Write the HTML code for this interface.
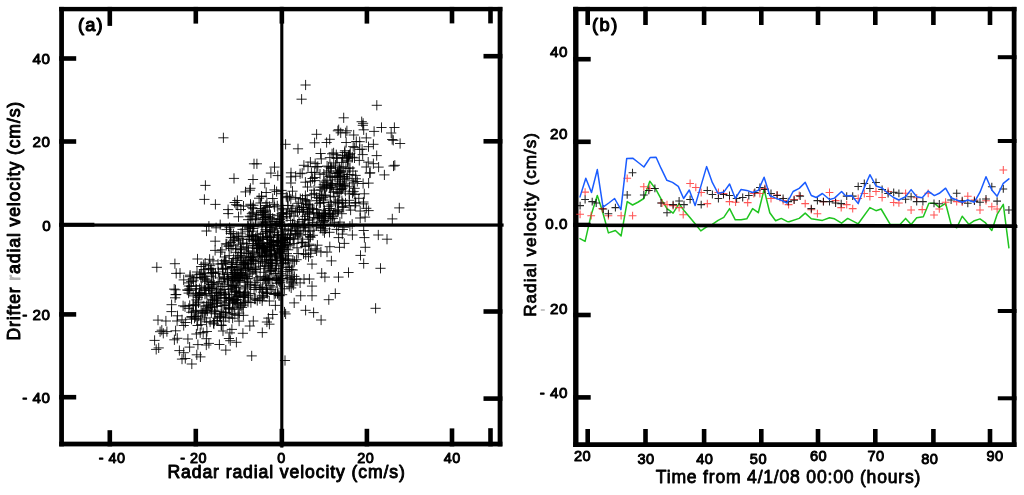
<!DOCTYPE html>
<html lang="en">
<head>
<meta charset="utf-8">
<title>Radial velocity comparison</title>
<style>
html,body{margin:0;padding:0;background:#fff;}
body{width:1024px;height:495px;overflow:hidden;font-family:"Liberation Sans", sans-serif;}
svg{display:block;font-family:"Liberation Sans", sans-serif;}
</style>
</head>
<body>
<svg width="1024" height="495" viewBox="0 0 1024 495">
<defs>
<filter id="soft" x="0" y="0" width="1024" height="495" filterUnits="userSpaceOnUse" color-interpolation-filters="sRGB">
<feGaussianBlur stdDeviation="0.45"/>
</filter>
</defs>
<rect x="0" y="0" width="1024" height="495" fill="#ffffff"/>
<g id="panelA">
<path d="M235.5 255.7h10.2M240.6 250.6v10.2M238.9 256.1h10.2M244.0 251.0v10.2M260.8 205.5h10.2M265.9 200.4v10.2M278.2 237.0h10.2M283.3 231.9v10.2M285.8 183.0h10.2M290.9 177.9v10.2M316.2 158.9h10.2M321.3 153.8v10.2M270.2 268.6h10.2M275.3 263.5v10.2M293.3 203.3h10.2M298.4 198.2v10.2M263.0 216.4h10.2M268.1 211.3v10.2M241.6 253.7h10.2M246.7 248.6v10.2M240.3 268.5h10.2M245.4 263.4v10.2M271.5 260.8h10.2M276.6 255.7v10.2M341.5 157.9h10.2M346.6 152.8v10.2M277.5 251.2h10.2M282.6 246.1v10.2M260.4 229.7h10.2M265.5 224.6v10.2M215.4 252.1h10.2M220.5 247.0v10.2M317.9 197.7h10.2M323.0 192.6v10.2M245.3 188.3h10.2M250.4 183.2v10.2M292.4 212.1h10.2M297.5 207.0v10.2M263.4 279.8h10.2M268.5 274.7v10.2M277.6 208.4h10.2M282.7 203.3v10.2M277.4 240.2h10.2M282.5 235.1v10.2M271.3 223.5h10.2M276.4 218.4v10.2M261.8 202.8h10.2M266.9 197.7v10.2M256.4 196.6h10.2M261.5 191.5v10.2M268.3 246.2h10.2M273.4 241.1v10.2M259.8 217.3h10.2M264.9 212.2v10.2M288.0 238.9h10.2M293.1 233.8v10.2M257.8 212.8h10.2M262.9 207.7v10.2M268.2 245.3h10.2M273.3 240.2v10.2M259.9 217.7h10.2M265.0 212.6v10.2M247.6 231.2h10.2M252.7 226.1v10.2M281.2 196.7h10.2M286.3 191.6v10.2M261.1 259.8h10.2M266.2 254.7v10.2M297.7 212.0h10.2M302.8 206.9v10.2M285.7 230.6h10.2M290.8 225.5v10.2M319.0 212.8h10.2M324.1 207.7v10.2M256.5 196.1h10.2M261.6 191.0v10.2M247.9 179.5h10.2M253.0 174.4v10.2M260.8 262.0h10.2M265.9 256.9v10.2M312.7 166.5h10.2M317.8 161.4v10.2M276.1 249.4h10.2M281.2 244.3v10.2M261.4 256.2h10.2M266.5 251.1v10.2M273.2 240.4h10.2M278.3 235.3v10.2M240.5 286.0h10.2M245.6 280.9v10.2M223.0 209.6h10.2M228.1 204.5v10.2M284.4 213.8h10.2M289.5 208.7v10.2M277.4 216.4h10.2M282.5 211.3v10.2M262.0 247.7h10.2M267.1 242.6v10.2M345.5 210.1h10.2M350.6 205.0v10.2M278.6 263.0h10.2M283.7 257.9v10.2M271.9 228.3h10.2M277.0 223.2v10.2M266.5 263.7h10.2M271.6 258.6v10.2M242.0 276.4h10.2M247.1 271.3v10.2M291.5 259.7h10.2M296.6 254.6v10.2M293.9 221.9h10.2M299.0 216.8v10.2M324.1 213.3h10.2M329.2 208.2v10.2M311.5 250.9h10.2M316.6 245.8v10.2M264.9 259.7h10.2M270.0 254.6v10.2M265.9 244.4h10.2M271.0 239.3v10.2M315.0 187.1h10.2M320.1 182.0v10.2M223.9 245.9h10.2M229.0 240.8v10.2M218.1 263.6h10.2M223.2 258.5v10.2M272.6 236.9h10.2M277.7 231.8v10.2M251.4 248.4h10.2M256.5 243.3v10.2M238.0 264.6h10.2M243.1 259.5v10.2M265.9 231.0h10.2M271.0 225.9v10.2M272.2 249.2h10.2M277.3 244.1v10.2M308.8 217.6h10.2M313.9 212.5v10.2M293.0 225.8h10.2M298.1 220.7v10.2M259.3 210.1h10.2M264.4 205.0v10.2M324.7 208.5h10.2M329.8 203.4v10.2M259.2 257.2h10.2M264.3 252.1v10.2M226.2 276.4h10.2M231.3 271.3v10.2M295.0 282.9h10.2M300.1 277.8v10.2M264.3 206.4h10.2M269.4 201.3v10.2M256.9 212.6h10.2M262.0 207.5v10.2M249.0 252.7h10.2M254.1 247.6v10.2M294.4 210.0h10.2M299.5 204.9v10.2M305.5 181.3h10.2M310.6 176.2v10.2M282.1 260.0h10.2M287.2 254.9v10.2M272.8 234.9h10.2M277.9 229.8v10.2M262.8 237.2h10.2M267.9 232.1v10.2M260.4 223.9h10.2M265.5 218.8v10.2M265.3 262.4h10.2M270.4 257.3v10.2M271.1 279.5h10.2M276.2 274.4v10.2M272.8 248.6h10.2M277.9 243.5v10.2M267.7 229.7h10.2M272.8 224.6v10.2M275.6 245.7h10.2M280.7 240.6v10.2M228.3 234.0h10.2M233.4 228.9v10.2M259.2 279.1h10.2M264.3 274.0v10.2M315.8 252.0h10.2M320.9 246.9v10.2M311.4 209.6h10.2M316.5 204.5v10.2M232.5 258.0h10.2M237.6 252.9v10.2M233.2 240.8h10.2M238.3 235.7v10.2M321.9 252.1h10.2M327.0 247.0v10.2M269.1 250.6h10.2M274.2 245.5v10.2M303.2 239.2h10.2M308.3 234.1v10.2M244.7 190.2h10.2M249.8 185.1v10.2M298.3 207.6h10.2M303.4 202.5v10.2M215.1 224.7h10.2M220.2 219.6v10.2M257.7 233.6h10.2M262.8 228.5v10.2M241.8 278.7h10.2M246.9 273.6v10.2M302.4 187.0h10.2M307.5 181.9v10.2M282.4 237.7h10.2M287.5 232.6v10.2M280.2 238.3h10.2M285.3 233.2v10.2M236.4 272.5h10.2M241.5 267.4v10.2M286.1 287.9h10.2M291.2 282.8v10.2M279.6 225.9h10.2M284.7 220.8v10.2M253.0 254.1h10.2M258.1 249.0v10.2M266.9 265.4h10.2M272.0 260.3v10.2M256.2 256.5h10.2M261.3 251.4v10.2M324.4 232.3h10.2M329.5 227.2v10.2M337.7 229.5h10.2M342.8 224.4v10.2M260.3 251.5h10.2M265.4 246.4v10.2M239.2 265.0h10.2M244.3 259.9v10.2M298.2 209.5h10.2M303.3 204.4v10.2M297.7 242.4h10.2M302.8 237.3v10.2M271.3 241.5h10.2M276.4 236.4v10.2M200.1 263.1h10.2M205.2 258.0v10.2M246.9 219.3h10.2M252.0 214.2v10.2M219.4 260.6h10.2M224.5 255.5v10.2M247.5 251.2h10.2M252.6 246.1v10.2M257.3 295.3h10.2M262.4 290.2v10.2M272.9 235.5h10.2M278.0 230.4v10.2M248.3 205.3h10.2M253.4 200.2v10.2M231.7 236.2h10.2M236.8 231.1v10.2M275.6 242.3h10.2M280.7 237.2v10.2M257.5 223.2h10.2M262.6 218.1v10.2M242.8 248.1h10.2M247.9 243.0v10.2M257.7 248.2h10.2M262.8 243.1v10.2M264.8 271.4h10.2M269.9 266.3v10.2M304.8 231.2h10.2M309.9 226.1v10.2M245.4 204.3h10.2M250.5 199.2v10.2M292.4 224.4h10.2M297.5 219.3v10.2M287.5 223.9h10.2M292.6 218.8v10.2M283.2 229.1h10.2M288.3 224.0v10.2M278.8 247.5h10.2M283.9 242.4v10.2M294.9 235.1h10.2M300.0 230.0v10.2M272.2 205.8h10.2M277.3 200.7v10.2M281.9 216.7h10.2M287.0 211.6v10.2M340.4 202.9h10.2M345.5 197.8v10.2M232.7 272.9h10.2M237.8 267.8v10.2M272.8 248.1h10.2M277.9 243.0v10.2M270.5 225.6h10.2M275.6 220.5v10.2M242.3 264.8h10.2M247.4 259.7v10.2M264.2 217.6h10.2M269.3 212.5v10.2M320.8 182.7h10.2M325.9 177.6v10.2M302.9 166.6h10.2M308.0 161.5v10.2M285.0 244.8h10.2M290.1 239.7v10.2M247.2 259.1h10.2M252.3 254.0v10.2M300.3 195.6h10.2M305.4 190.5v10.2M262.1 207.4h10.2M267.2 202.3v10.2M250.5 240.2h10.2M255.6 235.1v10.2M264.9 237.5h10.2M270.0 232.4v10.2M304.0 244.2h10.2M309.1 239.1v10.2M265.5 260.6h10.2M270.6 255.5v10.2M207.6 300.0h10.2M212.7 294.9v10.2M229.6 202.5h10.2M234.7 197.4v10.2M305.5 253.2h10.2M310.6 248.1v10.2M325.0 214.4h10.2M330.1 209.3v10.2M300.6 254.6h10.2M305.7 249.5v10.2M273.4 240.4h10.2M278.5 235.3v10.2M264.9 236.1h10.2M270.0 231.0v10.2M266.6 270.2h10.2M271.7 265.1v10.2M307.4 208.8h10.2M312.5 203.7v10.2M271.4 265.9h10.2M276.5 260.8v10.2M151.7 267.3h10.2M156.8 262.2v10.2M284.1 269.5h10.2M289.2 264.4v10.2M295.2 198.7h10.2M300.3 193.6v10.2M250.8 218.8h10.2M255.9 213.7v10.2M260.5 211.8h10.2M265.6 206.7v10.2M232.3 200.5h10.2M237.4 195.4v10.2M213.6 295.3h10.2M218.7 290.2v10.2M300.4 201.0h10.2M305.5 195.9v10.2M284.4 196.2h10.2M289.5 191.1v10.2M306.3 172.4h10.2M311.4 167.3v10.2M253.7 245.4h10.2M258.8 240.3v10.2M266.4 242.7h10.2M271.5 237.6v10.2M235.4 249.1h10.2M240.5 244.0v10.2M246.5 236.4h10.2M251.6 231.3v10.2M257.0 255.3h10.2M262.1 250.2v10.2M264.8 231.9h10.2M269.9 226.8v10.2M278.3 217.9h10.2M283.4 212.8v10.2M210.0 250.4h10.2M215.1 245.3v10.2M315.5 153.5h10.2M320.6 148.4v10.2M295.0 173.7h10.2M300.1 168.6v10.2M204.1 288.8h10.2M209.2 283.7v10.2M223.3 292.1h10.2M228.4 287.0v10.2M199.9 287.6h10.2M205.0 282.5v10.2M264.9 246.8h10.2M270.0 241.7v10.2M251.3 245.3h10.2M256.4 240.2v10.2M259.0 246.3h10.2M264.1 241.2v10.2M272.5 260.3h10.2M277.6 255.2v10.2M257.3 261.9h10.2M262.4 256.8v10.2M205.0 322.0h10.2M210.1 316.9v10.2M279.1 246.0h10.2M284.2 240.9v10.2M316.6 218.3h10.2M321.7 213.2v10.2M247.3 235.5h10.2M252.4 230.4v10.2M250.5 269.6h10.2M255.6 264.5v10.2M279.6 242.7h10.2M284.7 237.6v10.2M321.5 186.7h10.2M326.6 181.6v10.2M274.6 224.0h10.2M279.7 218.9v10.2M230.8 252.3h10.2M235.9 247.2v10.2M262.0 243.4h10.2M267.1 238.3v10.2M274.9 263.4h10.2M280.0 258.3v10.2M237.6 239.2h10.2M242.7 234.1v10.2M225.7 233.5h10.2M230.8 228.4v10.2M274.6 219.4h10.2M279.7 214.3v10.2M261.8 279.5h10.2M266.9 274.4v10.2M247.7 243.7h10.2M252.8 238.6v10.2M229.2 239.8h10.2M234.3 234.7v10.2M237.4 229.4h10.2M242.5 224.3v10.2M297.2 219.5h10.2M302.3 214.4v10.2M285.8 176.9h10.2M290.9 171.8v10.2M282.3 197.7h10.2M287.4 192.6v10.2M274.1 252.6h10.2M279.2 247.5v10.2M276.7 214.2h10.2M281.8 209.1v10.2M277.8 209.8h10.2M282.9 204.7v10.2M275.1 251.3h10.2M280.2 246.2v10.2M225.7 237.4h10.2M230.8 232.3v10.2M276.5 190.4h10.2M281.6 185.3v10.2M333.0 203.2h10.2M338.1 198.1v10.2M220.7 261.2h10.2M225.8 256.1v10.2M244.2 228.8h10.2M249.3 223.7v10.2M289.3 226.5h10.2M294.4 221.4v10.2M243.0 236.9h10.2M248.1 231.8v10.2M250.5 238.3h10.2M255.6 233.2v10.2M296.3 242.9h10.2M301.4 237.8v10.2M259.9 250.1h10.2M265.0 245.0v10.2M290.7 227.9h10.2M295.8 222.8v10.2M243.3 263.8h10.2M248.4 258.7v10.2M304.6 205.1h10.2M309.7 200.0v10.2M285.7 199.0h10.2M290.8 193.9v10.2M272.9 221.8h10.2M278.0 216.7v10.2M280.1 229.2h10.2M285.2 224.1v10.2M269.4 189.9h10.2M274.5 184.8v10.2M257.3 222.0h10.2M262.4 216.9v10.2M235.5 275.5h10.2M240.6 270.4v10.2M201.4 231.0h10.2M206.5 225.9v10.2M240.6 261.0h10.2M245.7 255.9v10.2M291.5 279.0h10.2M296.6 273.9v10.2M305.3 237.4h10.2M310.4 232.3v10.2M312.3 245.2h10.2M317.4 240.1v10.2M304.9 207.1h10.2M310.0 202.0v10.2M287.7 270.0h10.2M292.8 264.9v10.2M253.3 240.5h10.2M258.4 235.4v10.2M290.6 211.7h10.2M295.7 206.6v10.2M258.3 211.0h10.2M263.4 205.9v10.2M277.1 226.3h10.2M282.2 221.2v10.2M276.5 193.7h10.2M281.6 188.6v10.2M266.5 224.7h10.2M271.6 219.6v10.2M245.5 293.6h10.2M250.6 288.5v10.2M272.7 215.7h10.2M277.8 210.6v10.2M245.5 205.8h10.2M250.6 200.7v10.2M260.4 221.2h10.2M265.5 216.1v10.2M261.1 192.5h10.2M266.2 187.4v10.2M239.2 282.1h10.2M244.3 277.0v10.2M231.0 204.7h10.2M236.1 199.6v10.2M236.0 233.1h10.2M241.1 228.0v10.2M251.9 248.2h10.2M257.0 243.1v10.2M315.4 202.8h10.2M320.5 197.7v10.2M246.1 263.7h10.2M251.2 258.6v10.2M302.0 200.9h10.2M307.1 195.8v10.2M291.9 206.0h10.2M297.0 200.9v10.2M303.6 245.6h10.2M308.7 240.5v10.2M267.5 218.4h10.2M272.6 213.3v10.2M232.6 205.4h10.2M237.7 200.3v10.2M258.4 247.9h10.2M263.5 242.8v10.2M308.9 190.2h10.2M314.0 185.1v10.2M278.7 234.7h10.2M283.8 229.6v10.2M273.8 242.1h10.2M278.9 237.0v10.2M207.0 282.2h10.2M212.1 277.1v10.2M291.2 231.0h10.2M296.3 225.9v10.2M207.9 260.9h10.2M213.0 255.8v10.2M285.5 235.1h10.2M290.6 230.0v10.2M257.5 247.9h10.2M262.6 242.8v10.2M248.2 228.5h10.2M253.3 223.4v10.2M242.7 226.1h10.2M247.8 221.0v10.2M227.9 237.7h10.2M233.0 232.6v10.2M238.0 243.0h10.2M243.1 237.9v10.2M305.0 236.5h10.2M310.1 231.4v10.2M225.7 242.5h10.2M230.8 237.4v10.2M253.5 263.2h10.2M258.6 258.1v10.2M309.3 193.4h10.2M314.4 188.3v10.2M264.2 255.8h10.2M269.3 250.7v10.2M254.2 255.1h10.2M259.3 250.0v10.2M227.9 245.7h10.2M233.0 240.6v10.2M254.0 198.2h10.2M259.1 193.1v10.2M302.2 211.9h10.2M307.3 206.8v10.2M221.4 229.6h10.2M226.5 224.5v10.2M269.0 221.5h10.2M274.1 216.4v10.2M275.1 246.2h10.2M280.2 241.1v10.2M302.8 234.6h10.2M307.9 229.5v10.2M260.8 222.4h10.2M265.9 217.3v10.2M257.9 237.4h10.2M263.0 232.3v10.2M236.3 249.9h10.2M241.4 244.8v10.2M303.4 256.7h10.2M308.5 251.6v10.2M242.6 231.2h10.2M247.7 226.1v10.2M226.0 248.5h10.2M231.1 243.4v10.2M300.1 246.5h10.2M305.2 241.4v10.2M286.3 211.1h10.2M291.4 206.0v10.2M268.9 245.4h10.2M274.0 240.3v10.2M231.8 275.3h10.2M236.9 270.2v10.2M265.0 249.3h10.2M270.1 244.2v10.2M303.1 220.3h10.2M308.2 215.2v10.2M256.5 246.0h10.2M261.6 240.9v10.2M296.5 207.1h10.2M301.6 202.0v10.2M285.4 234.0h10.2M290.5 228.9v10.2M266.3 251.1h10.2M271.4 246.0v10.2M247.8 212.3h10.2M252.9 207.2v10.2M211.0 227.8h10.2M216.1 222.7v10.2M255.6 242.9h10.2M260.7 237.8v10.2M272.7 175.6h10.2M277.8 170.5v10.2M250.4 267.9h10.2M255.5 262.8v10.2M353.7 198.3h10.2M358.8 193.2v10.2M264.6 247.3h10.2M269.7 242.2v10.2M223.1 213.6h10.2M228.2 208.5v10.2M245.6 284.8h10.2M250.7 279.7v10.2M262.2 243.8h10.2M267.3 238.7v10.2M251.8 163.8h10.2M256.9 158.7v10.2M270.3 254.9h10.2M275.4 249.8v10.2M283.1 249.8h10.2M288.2 244.7v10.2M272.7 234.4h10.2M277.8 229.3v10.2M254.8 244.1h10.2M259.9 239.0v10.2M260.6 250.1h10.2M265.7 245.0v10.2M244.7 216.2h10.2M249.8 211.1v10.2M268.3 240.5h10.2M273.4 235.4v10.2M269.4 167.1h10.2M274.5 162.0v10.2M243.2 253.6h10.2M248.3 248.5v10.2M280.8 271.4h10.2M285.9 266.3v10.2M193.4 303.0h10.2M198.5 297.9v10.2M295.7 231.0h10.2M300.8 225.9v10.2M239.6 292.3h10.2M244.7 287.2v10.2M248.3 259.9h10.2M253.4 254.8v10.2M260.4 231.9h10.2M265.5 226.8v10.2M313.1 217.4h10.2M318.2 212.3v10.2M282.9 245.9h10.2M288.0 240.8v10.2M275.1 219.1h10.2M280.2 214.0v10.2M246.8 256.6h10.2M251.9 251.5v10.2M278.5 260.2h10.2M283.6 255.1v10.2M245.4 226.9h10.2M250.5 221.8v10.2M297.1 173.2h10.2M302.2 168.1v10.2M275.1 282.8h10.2M280.2 277.7v10.2M284.9 237.8h10.2M290.0 232.7v10.2M240.0 292.1h10.2M245.1 287.0v10.2M279.7 237.6h10.2M284.8 232.5v10.2M269.4 232.6h10.2M274.5 227.5v10.2M248.7 226.6h10.2M253.8 221.5v10.2M319.0 216.8h10.2M324.1 211.7v10.2M233.3 236.4h10.2M238.4 231.3v10.2M307.5 178.5h10.2M312.6 173.4v10.2M217.2 286.5h10.2M222.3 281.4v10.2M252.0 246.9h10.2M257.1 241.8v10.2M326.3 204.9h10.2M331.4 199.8v10.2M292.5 234.0h10.2M297.6 228.9v10.2M259.7 183.3h10.2M264.8 178.2v10.2M255.4 203.0h10.2M260.5 197.9v10.2M277.3 231.1h10.2M282.4 226.0v10.2M279.9 249.2h10.2M285.0 244.1v10.2M311.3 225.9h10.2M316.4 220.8v10.2M288.2 285.0h10.2M293.3 279.9v10.2M276.6 213.7h10.2M281.7 208.6v10.2M275.6 246.7h10.2M280.7 241.6v10.2M247.1 207.7h10.2M252.2 202.6v10.2M228.6 240.8h10.2M233.7 235.7v10.2M261.6 253.1h10.2M266.7 248.0v10.2M308.5 212.6h10.2M313.6 207.5v10.2M268.0 244.7h10.2M273.1 239.6v10.2M236.2 252.7h10.2M241.3 247.6v10.2M290.6 197.5h10.2M295.7 192.4v10.2M238.4 206.1h10.2M243.5 201.0v10.2M233.4 216.8h10.2M238.5 211.7v10.2M243.0 219.7h10.2M248.1 214.6v10.2M349.9 205.8h10.2M355.0 200.7v10.2M226.6 264.4h10.2M231.7 259.3v10.2M300.2 216.4h10.2M305.3 211.3v10.2M247.2 271.9h10.2M252.3 266.8v10.2M272.0 277.4h10.2M277.1 272.3v10.2M227.5 278.7h10.2M232.6 273.6v10.2M220.4 294.2h10.2M225.5 289.1v10.2M280.8 239.6h10.2M285.9 234.5v10.2M252.9 214.6h10.2M258.0 209.5v10.2M305.9 250.1h10.2M311.0 245.0v10.2M252.3 248.7h10.2M257.4 243.6v10.2M262.7 239.4h10.2M267.8 234.3v10.2M283.4 259.1h10.2M288.5 254.0v10.2M265.3 219.7h10.2M270.4 214.6v10.2M244.8 257.4h10.2M249.9 252.3v10.2M235.8 209.5h10.2M240.9 204.4v10.2M304.1 219.1h10.2M309.2 214.0v10.2M284.5 239.6h10.2M289.6 234.5v10.2M261.6 231.6h10.2M266.7 226.5v10.2M263.2 266.3h10.2M268.3 261.2v10.2M264.3 245.1h10.2M269.4 240.0v10.2M265.3 214.6h10.2M270.4 209.5v10.2M282.6 275.7h10.2M287.7 270.6v10.2M283.0 205.4h10.2M288.1 200.3v10.2M229.8 270.4h10.2M234.9 265.3v10.2M269.0 204.4h10.2M274.1 199.3v10.2M281.3 213.9h10.2M286.4 208.8v10.2M269.5 206.9h10.2M274.6 201.8v10.2M257.8 238.6h10.2M262.9 233.5v10.2M306.3 194.7h10.2M311.4 189.6v10.2M258.1 219.5h10.2M263.2 214.4v10.2M251.4 215.0h10.2M256.5 209.9v10.2M244.2 236.5h10.2M249.3 231.4v10.2M266.8 241.0h10.2M271.9 235.9v10.2M268.7 242.2h10.2M273.8 237.1v10.2M284.8 277.4h10.2M289.9 272.3v10.2M299.1 224.9h10.2M304.2 219.8v10.2M293.9 233.1h10.2M299.0 228.0v10.2M258.0 214.9h10.2M263.1 209.8v10.2M259.1 249.1h10.2M264.2 244.0v10.2M255.8 210.8h10.2M260.9 205.7v10.2M186.0 286.4h10.2M191.1 281.3v10.2M286.7 230.9h10.2M291.8 225.8v10.2M287.4 191.2h10.2M292.5 186.1v10.2M264.7 231.0h10.2M269.8 225.9v10.2M250.4 219.9h10.2M255.5 214.8v10.2M277.6 248.9h10.2M282.7 243.8v10.2M265.8 173.1h10.2M270.9 168.0v10.2M298.4 253.8h10.2M303.5 248.7v10.2M285.8 211.3h10.2M290.9 206.2v10.2M290.6 176.2h10.2M295.7 171.1v10.2M291.9 247.8h10.2M297.0 242.7v10.2M248.3 239.6h10.2M253.4 234.5v10.2M267.6 198.5h10.2M272.7 193.4v10.2M243.7 227.7h10.2M248.8 222.6v10.2M271.5 191.6h10.2M276.6 186.5v10.2M287.8 260.7h10.2M292.9 255.6v10.2M260.6 216.1h10.2M265.7 211.0v10.2M241.5 243.6h10.2M246.6 238.5v10.2M257.7 217.9h10.2M262.8 212.8v10.2M265.2 227.5h10.2M270.3 222.4v10.2M264.9 267.9h10.2M270.0 262.8v10.2M288.9 216.0h10.2M294.0 210.9v10.2M287.5 224.3h10.2M292.6 219.2v10.2M277.0 294.7h10.2M282.1 289.6v10.2M248.2 208.7h10.2M253.3 203.6v10.2M241.7 247.2h10.2M246.8 242.1v10.2M244.2 239.4h10.2M249.3 234.3v10.2M256.6 227.0h10.2M261.7 221.9v10.2M254.0 245.5h10.2M259.1 240.4v10.2M261.9 225.9h10.2M267.0 220.8v10.2M253.1 240.8h10.2M258.2 235.7v10.2M280.3 260.4h10.2M285.4 255.3v10.2M287.7 208.3h10.2M292.8 203.2v10.2M282.6 205.6h10.2M287.7 200.5v10.2M238.9 263.2h10.2M244.0 258.1v10.2M203.5 288.4h10.2M208.6 283.3v10.2M170.5 294.7h10.2M175.6 289.6v10.2M198.2 273.0h10.2M203.3 267.9v10.2M186.5 316.5h10.2M191.6 311.4v10.2M188.1 295.9h10.2M193.2 290.8v10.2M242.9 302.2h10.2M248.0 297.1v10.2M193.4 302.1h10.2M198.5 297.0v10.2M266.1 289.4h10.2M271.2 284.3v10.2M227.5 285.6h10.2M232.6 280.5v10.2M201.6 309.0h10.2M206.7 303.9v10.2M233.9 277.3h10.2M239.0 272.2v10.2M205.0 265.7h10.2M210.1 260.6v10.2M248.0 260.6h10.2M253.1 255.5v10.2M206.6 272.7h10.2M211.7 267.6v10.2M196.0 324.6h10.2M201.1 319.5v10.2M279.3 288.8h10.2M284.4 283.7v10.2M171.1 294.5h10.2M176.2 289.4v10.2M232.9 315.4h10.2M238.0 310.3v10.2M266.3 253.1h10.2M271.4 248.0v10.2M212.2 318.1h10.2M217.3 313.0v10.2M199.8 294.2h10.2M204.9 289.1v10.2M206.3 307.3h10.2M211.4 302.2v10.2M206.5 288.5h10.2M211.6 283.4v10.2M222.5 280.1h10.2M227.6 275.0v10.2M235.7 249.0h10.2M240.8 243.9v10.2M176.9 319.8h10.2M182.0 314.7v10.2M220.9 243.9h10.2M226.0 238.8v10.2M233.0 269.5h10.2M238.1 264.4v10.2M239.3 294.5h10.2M244.4 289.4v10.2M198.9 269.6h10.2M204.0 264.5v10.2M182.1 290.0h10.2M187.2 284.9v10.2M249.0 289.5h10.2M254.1 284.4v10.2M229.7 314.4h10.2M234.8 309.3v10.2M230.4 291.5h10.2M235.5 286.4v10.2M220.8 305.0h10.2M225.9 299.9v10.2M248.2 257.7h10.2M253.3 252.6v10.2M233.3 278.4h10.2M238.4 273.3v10.2M183.7 308.4h10.2M188.8 303.3v10.2M297.4 242.3h10.2M302.5 237.2v10.2M224.1 297.8h10.2M229.2 292.7v10.2M191.2 277.5h10.2M196.3 272.4v10.2M226.7 266.6h10.2M231.8 261.5v10.2M199.6 318.0h10.2M204.7 312.9v10.2M183.6 282.9h10.2M188.7 277.8v10.2M202.7 281.6h10.2M207.8 276.5v10.2M263.3 318.1h10.2M268.4 313.0v10.2M226.2 313.7h10.2M231.3 308.6v10.2M222.0 274.4h10.2M227.1 269.3v10.2M239.8 277.2h10.2M244.9 272.1v10.2M226.5 266.9h10.2M231.6 261.8v10.2M211.9 303.4h10.2M217.0 298.3v10.2M208.4 282.6h10.2M213.5 277.5v10.2M201.1 293.5h10.2M206.2 288.4v10.2M252.5 234.6h10.2M257.6 229.5v10.2M228.7 272.6h10.2M233.8 267.5v10.2M235.4 274.0h10.2M240.5 268.9v10.2M196.0 311.1h10.2M201.1 306.0v10.2M211.4 292.6h10.2M216.5 287.5v10.2M218.5 321.1h10.2M223.6 316.0v10.2M271.4 256.4h10.2M276.5 251.3v10.2M172.0 321.0h10.2M177.1 315.9v10.2M219.8 284.1h10.2M224.9 279.0v10.2M223.1 279.2h10.2M228.2 274.1v10.2M232.1 299.4h10.2M237.2 294.3v10.2M234.9 273.0h10.2M240.0 267.9v10.2M246.3 260.3h10.2M251.4 255.2v10.2M250.6 299.1h10.2M255.7 294.0v10.2M257.3 297.4h10.2M262.4 292.3v10.2M231.0 279.2h10.2M236.1 274.1v10.2M179.9 306.7h10.2M185.0 301.6v10.2M225.9 286.4h10.2M231.0 281.3v10.2M210.4 273.5h10.2M215.5 268.4v10.2M217.9 331.0h10.2M223.0 325.9v10.2M216.2 311.7h10.2M221.3 306.6v10.2M243.0 278.7h10.2M248.1 273.6v10.2M182.9 290.2h10.2M188.0 285.1v10.2M235.7 306.0h10.2M240.8 300.9v10.2M219.3 279.0h10.2M224.4 273.9v10.2M195.0 292.5h10.2M200.1 287.4v10.2M197.8 312.3h10.2M202.9 307.2v10.2M174.3 350.6h10.2M179.4 345.5v10.2M242.5 282.0h10.2M247.6 276.9v10.2M246.8 213.6h10.2M251.9 208.5v10.2M237.7 275.6h10.2M242.8 270.5v10.2M224.4 300.5h10.2M229.5 295.4v10.2M225.2 340.7h10.2M230.3 335.6v10.2M217.4 269.6h10.2M222.5 264.5v10.2M224.1 255.6h10.2M229.2 250.5v10.2M217.9 305.6h10.2M223.0 300.5v10.2M270.5 271.1h10.2M275.6 266.0v10.2M191.9 318.9h10.2M197.0 313.8v10.2M255.3 287.3h10.2M260.4 282.2v10.2M220.4 312.3h10.2M225.5 307.2v10.2M206.2 268.4h10.2M211.3 263.3v10.2M214.9 295.1h10.2M220.0 290.0v10.2M186.2 312.3h10.2M191.3 307.2v10.2M235.0 280.2h10.2M240.1 275.1v10.2M257.6 252.9h10.2M262.7 247.8v10.2M233.1 286.0h10.2M238.2 280.9v10.2M203.5 305.1h10.2M208.6 300.0v10.2M214.3 344.5h10.2M219.4 339.4v10.2M243.2 295.4h10.2M248.3 290.3v10.2M251.0 237.0h10.2M256.1 231.9v10.2M196.1 266.5h10.2M201.2 261.4v10.2M182.8 339.0h10.2M187.9 333.9v10.2M195.7 277.4h10.2M200.8 272.3v10.2M191.3 334.0h10.2M196.4 328.9v10.2M198.6 264.5h10.2M203.7 259.4v10.2M240.5 301.0h10.2M245.6 295.9v10.2M231.2 292.2h10.2M236.3 287.1v10.2M223.0 282.0h10.2M228.1 276.9v10.2M266.9 278.5h10.2M272.0 273.4v10.2M217.5 268.4h10.2M222.6 263.3v10.2M203.8 343.4h10.2M208.9 338.3v10.2M236.0 274.3h10.2M241.1 269.2v10.2M260.8 277.1h10.2M265.9 272.0v10.2M220.9 312.5h10.2M226.0 307.4v10.2M200.2 290.3h10.2M205.3 285.2v10.2M197.2 277.8h10.2M202.3 272.7v10.2M218.9 278.1h10.2M224.0 273.0v10.2M207.3 299.3h10.2M212.4 294.2v10.2M255.3 266.3h10.2M260.4 261.2v10.2M203.8 226.2h10.2M208.9 221.1v10.2M230.9 302.7h10.2M236.0 297.6v10.2M205.7 295.9h10.2M210.8 290.8v10.2M172.4 315.8h10.2M177.5 310.7v10.2M190.5 311.0h10.2M195.6 305.9v10.2M183.5 293.1h10.2M188.6 288.0v10.2M209.4 310.3h10.2M214.5 305.2v10.2M185.0 275.2h10.2M190.1 270.1v10.2M161.8 331.6h10.2M166.9 326.5v10.2M236.9 307.4h10.2M242.0 302.3v10.2M236.2 262.2h10.2M241.3 257.1v10.2M156.7 330.2h10.2M161.8 325.1v10.2M227.5 318.2h10.2M232.6 313.1v10.2M206.5 295.8h10.2M211.6 290.7v10.2M206.2 276.2h10.2M211.3 271.1v10.2M262.1 292.2h10.2M267.2 287.1v10.2M212.2 300.6h10.2M217.3 295.5v10.2M231.6 264.5h10.2M236.7 259.4v10.2M234.1 313.1h10.2M239.2 308.0v10.2M283.2 263.0h10.2M288.3 257.9v10.2M214.5 316.6h10.2M219.6 311.5v10.2M198.8 305.9h10.2M203.9 300.8v10.2M195.3 356.9h10.2M200.4 351.8v10.2M243.2 266.9h10.2M248.3 261.8v10.2M216.5 325.5h10.2M221.6 320.4v10.2M236.9 260.3h10.2M242.0 255.2v10.2M219.3 305.2h10.2M224.4 300.1v10.2M213.3 271.9h10.2M218.4 266.8v10.2M178.0 305.8h10.2M183.1 300.7v10.2M219.7 257.0h10.2M224.8 251.9v10.2M229.5 299.5h10.2M234.6 294.4v10.2M238.3 315.3h10.2M243.4 310.2v10.2M215.9 292.6h10.2M221.0 287.5v10.2M274.4 252.9h10.2M279.5 247.8v10.2M190.7 293.2h10.2M195.8 288.1v10.2M235.3 244.2h10.2M240.4 239.1v10.2M209.1 301.0h10.2M214.2 295.9v10.2M222.7 278.4h10.2M227.8 273.3v10.2M187.7 278.9h10.2M192.8 273.8v10.2M211.6 293.4h10.2M216.7 288.3v10.2M188.0 311.9h10.2M193.1 306.8v10.2M231.4 287.5h10.2M236.5 282.4v10.2M224.5 227.7h10.2M229.6 222.6v10.2M184.6 305.4h10.2M189.7 300.3v10.2M245.7 269.2h10.2M250.8 264.1v10.2M223.5 246.2h10.2M228.6 241.1v10.2M224.7 299.3h10.2M229.8 294.2v10.2M229.7 277.2h10.2M234.8 272.1v10.2M255.5 261.1h10.2M260.6 256.0v10.2M238.5 262.8h10.2M243.6 257.7v10.2M213.1 283.7h10.2M218.2 278.6v10.2M194.5 288.7h10.2M199.6 283.6v10.2M281.9 267.4h10.2M287.0 262.3v10.2M172.2 338.3h10.2M177.3 333.2v10.2M188.4 280.8h10.2M193.5 275.7v10.2M194.0 295.4h10.2M199.1 290.3v10.2M194.5 293.9h10.2M199.6 288.8v10.2M252.8 240.8h10.2M257.9 235.7v10.2M195.5 319.9h10.2M200.6 314.8v10.2M216.0 281.6h10.2M221.1 276.5v10.2M196.2 286.1h10.2M201.3 281.0v10.2M235.4 303.7h10.2M240.5 298.6v10.2M152.9 320.1h10.2M158.0 315.0v10.2M191.7 354.8h10.2M196.8 349.7v10.2M210.1 313.8h10.2M215.2 308.7v10.2M208.4 323.1h10.2M213.5 318.0v10.2M193.2 316.1h10.2M198.3 311.0v10.2M227.6 277.8h10.2M232.7 272.7v10.2M191.9 272.0h10.2M197.0 266.9v10.2M245.0 284.2h10.2M250.1 279.1v10.2M221.3 297.9h10.2M226.4 292.8v10.2M240.3 288.9h10.2M245.4 283.8v10.2M257.9 292.2h10.2M263.0 287.1v10.2M247.9 245.6h10.2M253.0 240.5v10.2M212.1 320.6h10.2M217.2 315.5v10.2M219.3 294.2h10.2M224.4 289.1v10.2M238.2 305.1h10.2M243.3 300.0v10.2M232.1 304.0h10.2M237.2 298.9v10.2M272.7 241.7h10.2M277.8 236.6v10.2M238.9 297.5h10.2M244.0 292.4v10.2M192.8 297.3h10.2M197.9 292.2v10.2M226.8 266.9h10.2M231.9 261.8v10.2M227.4 276.2h10.2M232.5 271.1v10.2M220.6 317.1h10.2M225.7 312.0v10.2M226.6 267.4h10.2M231.7 262.3v10.2M184.5 347.1h10.2M189.6 342.0v10.2M188.1 305.3h10.2M193.2 300.2v10.2M233.8 238.3h10.2M238.9 233.2v10.2M240.7 262.8h10.2M245.8 257.7v10.2M223.8 338.5h10.2M228.9 333.4v10.2M224.2 308.9h10.2M229.3 303.8v10.2M235.8 246.9h10.2M240.9 241.8v10.2M212.0 306.5h10.2M217.1 301.4v10.2M220.4 268.3h10.2M225.5 263.2v10.2M200.0 312.9h10.2M205.1 307.8v10.2M242.2 287.2h10.2M247.3 282.1v10.2M153.6 347.9h10.2M158.7 342.8v10.2M224.1 303.1h10.2M229.2 298.0v10.2M233.8 309.0h10.2M238.9 303.9v10.2M248.8 241.0h10.2M253.9 235.9v10.2M229.1 307.2h10.2M234.2 302.1v10.2M176.9 359.1h10.2M182.0 354.0v10.2M191.3 310.3h10.2M196.4 305.2v10.2M226.6 294.7h10.2M231.7 289.6v10.2M226.6 288.3h10.2M231.7 283.2v10.2M201.5 321.8h10.2M206.6 316.7v10.2M225.5 231.7h10.2M230.6 226.6v10.2M229.3 290.9h10.2M234.4 285.8v10.2M214.5 277.9h10.2M219.6 272.8v10.2M215.8 302.0h10.2M220.9 296.9v10.2M192.8 344.6h10.2M197.9 339.5v10.2M224.0 308.2h10.2M229.1 303.1v10.2M227.4 302.9h10.2M232.5 297.8v10.2M228.0 301.4h10.2M233.1 296.3v10.2M245.6 259.2h10.2M250.7 254.1v10.2M206.0 284.5h10.2M211.1 279.4v10.2M201.6 306.1h10.2M206.7 301.0v10.2M200.1 279.0h10.2M205.2 273.9v10.2M221.7 244.0h10.2M226.8 238.9v10.2M209.2 321.0h10.2M214.3 315.9v10.2M192.5 325.5h10.2M197.6 320.4v10.2M233.1 295.9h10.2M238.2 290.8v10.2M244.6 273.8h10.2M249.7 268.7v10.2M208.3 272.8h10.2M213.4 267.7v10.2M244.7 326.0h10.2M249.8 320.9v10.2M206.3 312.9h10.2M211.4 307.8v10.2M232.5 280.5h10.2M237.6 275.4v10.2M219.8 297.9h10.2M224.9 292.8v10.2M233.1 255.9h10.2M238.2 250.8v10.2M240.2 270.4h10.2M245.3 265.3v10.2M243.4 251.0h10.2M248.5 245.9v10.2M245.5 257.1h10.2M250.6 252.0v10.2M226.8 329.4h10.2M231.9 324.3v10.2M212.1 298.7h10.2M217.2 293.6v10.2M216.3 263.9h10.2M221.4 258.8v10.2M205.4 304.0h10.2M210.5 298.9v10.2M190.4 304.6h10.2M195.5 299.5v10.2M190.5 316.6h10.2M195.6 311.5v10.2M211.8 302.9h10.2M216.9 297.8v10.2M184.8 290.4h10.2M189.9 285.3v10.2M279.0 238.8h10.2M284.1 233.7v10.2M277.1 278.4h10.2M282.2 273.3v10.2M189.4 318.2h10.2M194.5 313.1v10.2M208.8 324.0h10.2M213.9 318.9v10.2M235.1 257.7h10.2M240.2 252.6v10.2M229.6 277.0h10.2M234.7 271.9v10.2M225.8 285.0h10.2M230.9 279.9v10.2M254.3 289.2h10.2M259.4 284.1v10.2M198.1 332.7h10.2M203.2 327.6v10.2M228.6 280.5h10.2M233.7 275.4v10.2M265.8 250.3h10.2M270.9 245.2v10.2M199.2 289.8h10.2M204.3 284.7v10.2M232.7 296.5h10.2M237.8 291.4v10.2M202.3 311.1h10.2M207.4 306.0v10.2M201.9 302.4h10.2M207.0 297.3v10.2M219.2 276.9h10.2M224.3 271.8v10.2M178.6 325.5h10.2M183.7 320.4v10.2M203.4 268.4h10.2M208.5 263.3v10.2M204.8 307.6h10.2M209.9 302.5v10.2M217.9 274.1h10.2M223.0 269.0v10.2M184.4 288.8h10.2M189.5 283.7v10.2M243.2 297.1h10.2M248.3 292.0v10.2M231.5 297.0h10.2M236.6 291.9v10.2M196.8 295.1h10.2M201.9 290.0v10.2M243.0 267.4h10.2M248.1 262.3v10.2M252.2 300.5h10.2M257.3 295.4v10.2M238.2 295.4h10.2M243.3 290.3v10.2M201.8 331.5h10.2M206.9 326.4v10.2M223.8 289.4h10.2M228.9 284.3v10.2M211.0 292.0h10.2M216.1 286.9v10.2M222.6 272.8h10.2M227.7 267.7v10.2M277.8 245.3h10.2M282.9 240.2v10.2M234.5 280.6h10.2M239.6 275.5v10.2M236.9 277.8h10.2M242.0 272.7v10.2M224.8 332.9h10.2M229.9 327.8v10.2M248.1 269.7h10.2M253.2 264.6v10.2M226.0 269.0h10.2M231.1 263.9v10.2M229.4 272.5h10.2M234.5 267.4v10.2M235.0 267.3h10.2M240.1 262.2v10.2M228.5 258.5h10.2M233.6 253.4v10.2M195.1 332.8h10.2M200.2 327.7v10.2M230.7 281.9h10.2M235.8 276.8v10.2M232.0 266.8h10.2M237.1 261.7v10.2M250.9 272.0h10.2M256.0 266.9v10.2M191.3 289.0h10.2M196.4 283.9v10.2M270.3 305.4h10.2M275.4 300.3v10.2M201.3 338.7h10.2M206.4 333.6v10.2M210.1 241.2h10.2M215.2 236.1v10.2M254.1 247.8h10.2M259.2 242.7v10.2M230.3 273.9h10.2M235.4 268.8v10.2M228.0 299.0h10.2M233.1 293.9v10.2M204.5 259.3h10.2M209.6 254.2v10.2M218.1 315.1h10.2M223.2 310.0v10.2M238.1 268.8h10.2M243.2 263.7v10.2M199.9 273.8h10.2M205.0 268.7v10.2M186.4 317.3h10.2M191.5 312.2v10.2M170.0 297.8h10.2M175.1 292.7v10.2M188.0 305.8h10.2M193.1 300.7v10.2M170.4 289.8h10.2M175.5 284.7v10.2M270.5 257.9h10.2M275.6 252.8v10.2M220.7 262.2h10.2M225.8 257.1v10.2M209.1 284.9h10.2M214.2 279.8v10.2M205.6 269.7h10.2M210.7 264.6v10.2M241.0 274.9h10.2M246.1 269.8v10.2M223.6 307.8h10.2M228.7 302.7v10.2M169.3 339.8h10.2M174.4 334.7v10.2M218.8 289.5h10.2M223.9 284.4v10.2M199.6 276.3h10.2M204.7 271.2v10.2M209.5 297.3h10.2M214.6 292.2v10.2M186.4 319.2h10.2M191.5 314.1v10.2M201.7 280.3h10.2M206.8 275.2v10.2M234.5 292.7h10.2M239.6 287.6v10.2M235.0 293.1h10.2M240.1 288.0v10.2M197.1 313.3h10.2M202.2 308.2v10.2M249.7 269.1h10.2M254.8 264.0v10.2M184.9 276.7h10.2M190.0 271.6v10.2M204.8 290.4h10.2M209.9 285.3v10.2M261.1 288.0h10.2M266.2 282.9v10.2M259.6 268.7h10.2M264.7 263.6v10.2M234.0 321.1h10.2M239.1 316.0v10.2M216.8 249.9h10.2M221.9 244.8v10.2M192.4 259.0h10.2M197.5 253.9v10.2M200.8 310.6h10.2M205.9 305.5v10.2M201.2 345.0h10.2M206.3 339.9v10.2M219.0 297.8h10.2M224.1 292.7v10.2M245.3 216.8h10.2M250.4 211.7v10.2M207.1 287.0h10.2M212.2 281.9v10.2M261.8 322.0h10.2M266.9 316.9v10.2M230.5 249.0h10.2M235.6 243.9v10.2M262.6 278.8h10.2M267.7 273.7v10.2M252.7 280.1h10.2M257.8 275.0v10.2M215.4 317.2h10.2M220.5 312.1v10.2M215.1 289.9h10.2M220.2 284.8v10.2M233.9 293.1h10.2M239.0 288.0v10.2M245.8 302.6h10.2M250.9 297.5v10.2M203.4 287.2h10.2M208.5 282.1v10.2M216.1 325.0h10.2M221.2 319.9v10.2M169.1 289.1h10.2M174.2 284.0v10.2M174.9 273.2h10.2M180.0 268.1v10.2M262.9 256.1h10.2M268.0 251.0v10.2M199.5 279.1h10.2M204.6 274.0v10.2M257.7 239.5h10.2M262.8 234.4v10.2M180.3 322.5h10.2M185.4 317.4v10.2M212.9 264.0h10.2M218.0 258.9v10.2M211.8 288.9h10.2M216.9 283.8v10.2M190.7 294.0h10.2M195.8 288.9v10.2M216.0 314.0h10.2M221.1 308.9v10.2M207.6 272.5h10.2M212.7 267.4v10.2M227.6 262.4h10.2M232.7 257.3v10.2M239.2 302.7h10.2M244.3 297.6v10.2M275.5 254.0h10.2M280.6 248.9v10.2M207.5 304.9h10.2M212.6 299.8v10.2M229.5 274.4h10.2M234.6 269.3v10.2M194.3 274.4h10.2M199.4 269.3v10.2M183.7 286.0h10.2M188.8 280.9v10.2M227.6 309.2h10.2M232.7 304.1v10.2M230.7 260.1h10.2M235.8 255.0v10.2M228.9 285.9h10.2M234.0 280.8v10.2M195.9 274.1h10.2M201.0 269.0v10.2M226.5 263.0h10.2M231.6 257.9v10.2M232.8 302.6h10.2M237.9 297.5v10.2M224.0 317.9h10.2M229.1 312.8v10.2M224.1 298.4h10.2M229.2 293.3v10.2M215.8 292.8h10.2M220.9 287.7v10.2M191.4 299.9h10.2M196.5 294.8v10.2M269.4 253.6h10.2M274.5 248.5v10.2M209.8 311.6h10.2M214.9 306.5v10.2M226.4 267.7h10.2M231.5 262.6v10.2M249.7 282.3h10.2M254.8 277.2v10.2M166.4 311.6h10.2M171.5 306.5v10.2M249.3 299.0h10.2M254.4 293.9v10.2M193.8 295.2h10.2M198.9 290.1v10.2M190.8 285.7h10.2M195.9 280.6v10.2M186.1 281.6h10.2M191.2 276.5v10.2M170.5 330.8h10.2M175.6 325.7v10.2M166.5 304.7h10.2M171.6 299.6v10.2M238.3 296.3h10.2M243.4 291.2v10.2M230.2 300.6h10.2M235.3 295.5v10.2M276.9 240.4h10.2M282.0 235.3v10.2M258.7 296.2h10.2M263.8 291.1v10.2M284.6 266.9h10.2M289.7 261.8v10.2M250.1 285.4h10.2M255.2 280.3v10.2M254.8 298.8h10.2M259.9 293.7v10.2M273.5 280.6h10.2M278.6 275.5v10.2M270.1 255.1h10.2M275.2 250.0v10.2M264.6 242.6h10.2M269.7 237.5v10.2M280.4 259.0h10.2M285.5 253.9v10.2M288.8 279.1h10.2M293.9 274.0v10.2M271.9 283.3h10.2M277.0 278.2v10.2M272.4 293.7h10.2M277.5 288.6v10.2M253.8 243.6h10.2M258.9 238.5v10.2M298.9 279.1h10.2M304.0 274.0v10.2M272.9 292.8h10.2M278.0 287.7v10.2M254.3 253.0h10.2M259.4 247.9v10.2M276.8 278.6h10.2M281.9 273.5v10.2M264.2 278.9h10.2M269.3 273.8v10.2M262.5 293.5h10.2M267.6 288.4v10.2M273.6 268.9h10.2M278.7 263.8v10.2M285.8 281.9h10.2M290.9 276.8v10.2M260.5 280.5h10.2M265.6 275.4v10.2M268.8 273.5h10.2M273.9 268.4v10.2M274.0 276.0h10.2M279.1 270.9v10.2M292.9 236.8h10.2M298.0 231.7v10.2M263.2 263.8h10.2M268.3 258.7v10.2M289.5 261.3h10.2M294.6 256.2v10.2M264.3 301.0h10.2M269.4 295.9v10.2M293.1 253.5h10.2M298.2 248.4v10.2M286.7 279.9h10.2M291.8 274.8v10.2M275.7 258.8h10.2M280.8 253.7v10.2M255.1 276.6h10.2M260.2 271.5v10.2M273.7 295.5h10.2M278.8 290.4v10.2M259.8 265.7h10.2M264.9 260.6v10.2M244.7 234.9h10.2M249.8 229.8v10.2M261.7 289.1h10.2M266.8 284.0v10.2M280.7 242.6h10.2M285.8 237.5v10.2M251.0 287.6h10.2M256.1 282.5v10.2M288.8 239.0h10.2M293.9 233.9v10.2M260.7 278.2h10.2M265.8 273.1v10.2M265.6 237.5h10.2M270.7 232.4v10.2M283.3 255.9h10.2M288.4 250.8v10.2M266.8 263.5h10.2M271.9 258.4v10.2M272.7 240.8h10.2M277.8 235.7v10.2M267.1 259.8h10.2M272.2 254.7v10.2M275.7 273.8h10.2M280.8 268.7v10.2M284.2 286.4h10.2M289.3 281.3v10.2M264.9 285.6h10.2M270.0 280.5v10.2M258.0 280.3h10.2M263.1 275.2v10.2M258.6 272.3h10.2M263.7 267.2v10.2M251.7 277.9h10.2M256.8 272.8v10.2M255.2 236.8h10.2M260.3 231.7v10.2M267.8 287.0h10.2M272.9 281.9v10.2M286.4 269.7h10.2M291.5 264.6v10.2M281.8 278.8h10.2M286.9 273.7v10.2M257.2 287.2h10.2M262.3 282.1v10.2M269.1 294.5h10.2M274.2 289.4v10.2M275.3 257.8h10.2M280.4 252.7v10.2M265.3 270.3h10.2M270.4 265.2v10.2M274.6 282.0h10.2M279.7 276.9v10.2M288.8 243.5h10.2M293.9 238.4v10.2M287.2 283.0h10.2M292.3 277.9v10.2M256.9 289.3h10.2M262.0 284.2v10.2M274.2 222.4h10.2M279.3 217.3v10.2M265.5 254.5h10.2M270.6 249.4v10.2M270.5 293.5h10.2M275.6 288.4v10.2M281.8 253.6h10.2M286.9 248.5v10.2M255.3 208.5h10.2M260.4 203.4v10.2M259.5 255.6h10.2M264.6 250.5v10.2M259.9 247.3h10.2M265.0 242.2v10.2M257.1 300.8h10.2M262.2 295.7v10.2M271.5 280.4h10.2M276.6 275.3v10.2M282.0 244.5h10.2M287.1 239.4v10.2M261.1 293.2h10.2M266.2 288.1v10.2M274.7 295.7h10.2M279.8 290.6v10.2M250.7 261.6h10.2M255.8 256.5v10.2M261.8 236.3h10.2M266.9 231.2v10.2M275.1 243.4h10.2M280.2 238.3v10.2M275.2 280.2h10.2M280.3 275.1v10.2M289.3 276.4h10.2M294.4 271.3v10.2M348.1 146.6h10.2M353.2 141.5v10.2M332.6 179.8h10.2M337.7 174.7v10.2M303.6 227.9h10.2M308.7 222.8v10.2M309.6 172.4h10.2M314.7 167.3v10.2M338.6 207.4h10.2M343.7 202.3v10.2M343.3 156.6h10.2M348.4 151.5v10.2M347.1 180.8h10.2M352.2 175.7v10.2M325.9 166.7h10.2M331.0 161.6v10.2M325.0 176.4h10.2M330.1 171.3v10.2M337.3 188.3h10.2M342.4 183.2v10.2M324.9 176.0h10.2M330.0 170.9v10.2M360.0 217.1h10.2M365.1 212.0v10.2M336.8 200.7h10.2M341.9 195.6v10.2M331.0 189.4h10.2M336.1 184.3v10.2M314.7 195.0h10.2M319.8 189.9v10.2M357.7 125.3h10.2M362.8 120.2v10.2M325.6 184.7h10.2M330.7 179.6v10.2M344.6 174.5h10.2M349.7 169.4v10.2M317.0 215.6h10.2M322.1 210.5v10.2M327.0 177.6h10.2M332.1 172.5v10.2M341.1 142.5h10.2M346.2 137.4v10.2M325.8 167.8h10.2M330.9 162.7v10.2M336.7 213.7h10.2M341.8 208.6v10.2M338.3 186.0h10.2M343.4 180.9v10.2M332.4 172.7h10.2M337.5 167.6v10.2M351.2 141.5h10.2M356.3 136.4v10.2M335.5 176.6h10.2M340.6 171.5v10.2M333.2 226.2h10.2M338.3 221.1v10.2M334.5 167.2h10.2M339.6 162.1v10.2M334.6 170.1h10.2M339.7 165.0v10.2M331.1 173.5h10.2M336.2 168.4v10.2M325.4 187.9h10.2M330.5 182.8v10.2M325.1 202.2h10.2M330.2 197.1v10.2M344.4 154.7h10.2M349.5 149.6v10.2M332.6 183.4h10.2M337.7 178.3v10.2M332.6 202.7h10.2M337.7 197.6v10.2M342.5 174.6h10.2M347.6 169.5v10.2M344.1 193.9h10.2M349.2 188.8v10.2M339.4 179.2h10.2M344.5 174.1v10.2M309.6 180.6h10.2M314.7 175.5v10.2M355.1 211.0h10.2M360.2 205.9v10.2M303.2 204.2h10.2M308.3 199.1v10.2M333.6 129.7h10.2M338.7 124.6v10.2M350.5 175.4h10.2M355.6 170.3v10.2M363.4 146.7h10.2M368.5 141.6v10.2M395.0 143.5h10.2M400.1 138.4v10.2M347.1 224.3h10.2M352.2 219.2v10.2M314.3 198.3h10.2M319.4 193.2v10.2M340.0 183.8h10.2M345.1 178.7v10.2M322.0 180.1h10.2M327.1 175.0v10.2M325.9 168.4h10.2M331.0 163.3v10.2M343.8 168.2h10.2M348.9 163.1v10.2M340.3 191.2h10.2M345.4 186.1v10.2M323.5 166.9h10.2M328.6 161.8v10.2M335.3 181.9h10.2M340.4 176.8v10.2M321.8 185.4h10.2M326.9 180.3v10.2M335.9 189.3h10.2M341.0 184.2v10.2M321.5 172.7h10.2M326.6 167.6v10.2M373.5 167.1h10.2M378.6 162.0v10.2M318.7 184.7h10.2M323.8 179.6v10.2M348.5 191.4h10.2M353.6 186.3v10.2M327.0 153.8h10.2M332.1 148.7v10.2M322.0 166.1h10.2M327.1 161.0v10.2M342.4 161.8h10.2M347.5 156.7v10.2M349.8 194.5h10.2M354.9 189.4v10.2M339.2 176.7h10.2M344.3 171.6v10.2M342.9 160.3h10.2M348.0 155.2v10.2M344.3 200.3h10.2M349.4 195.2v10.2M326.7 187.0h10.2M331.8 181.9v10.2M340.8 168.3h10.2M345.9 163.2v10.2M332.8 177.0h10.2M337.9 171.9v10.2M332.1 158.0h10.2M337.2 152.9v10.2M326.5 185.4h10.2M331.6 180.3v10.2M358.3 202.0h10.2M363.4 196.9v10.2M329.3 222.8h10.2M334.4 217.7v10.2M344.9 168.0h10.2M350.0 162.9v10.2M337.6 202.9h10.2M342.7 197.8v10.2M325.3 196.9h10.2M330.4 191.8v10.2M323.3 206.3h10.2M328.4 201.2v10.2M331.6 158.2h10.2M336.7 153.1v10.2M354.6 149.4h10.2M359.7 144.3v10.2M318.7 202.6h10.2M323.8 197.5v10.2M298.5 207.7h10.2M303.6 202.6v10.2M316.5 195.9h10.2M321.6 190.8v10.2M338.0 176.9h10.2M343.1 171.8v10.2M339.4 152.5h10.2M344.5 147.4v10.2M330.4 165.1h10.2M335.5 160.0v10.2M349.6 188.3h10.2M354.7 183.2v10.2M300.2 199.7h10.2M305.3 194.6v10.2M354.6 141.7h10.2M359.7 136.6v10.2M333.5 173.1h10.2M338.6 168.0v10.2M339.5 185.3h10.2M344.6 180.2v10.2M323.8 171.0h10.2M328.9 165.9v10.2M348.6 135.0h10.2M353.7 129.9v10.2M328.5 152.9h10.2M333.6 147.8v10.2M345.2 153.3h10.2M350.3 148.2v10.2M363.1 162.1h10.2M368.2 157.0v10.2M343.6 155.1h10.2M348.7 150.0v10.2M300.3 182.2h10.2M305.4 177.1v10.2M336.2 189.5h10.2M341.3 184.4v10.2M354.2 160.4h10.2M359.3 155.3v10.2M358.5 203.9h10.2M363.6 198.8v10.2M342.9 158.7h10.2M348.0 153.6v10.2M319.4 232.7h10.2M324.5 227.6v10.2M318.7 174.1h10.2M323.8 169.0v10.2M324.8 157.6h10.2M329.9 152.5v10.2M317.7 187.2h10.2M322.8 182.1v10.2M347.4 193.2h10.2M352.5 188.1v10.2M335.6 170.8h10.2M340.7 165.7v10.2M319.4 210.3h10.2M324.5 205.2v10.2M324.5 187.9h10.2M329.6 182.8v10.2M334.6 192.9h10.2M339.7 187.8v10.2M333.3 209.8h10.2M338.4 204.7v10.2M334.8 222.1h10.2M339.9 217.0v10.2M312.0 200.7h10.2M317.1 195.6v10.2M319.8 195.0h10.2M324.9 189.9v10.2M319.4 188.6h10.2M324.5 183.5v10.2M358.0 183.5h10.2M363.1 178.4v10.2M311.4 197.4h10.2M316.5 192.3v10.2M327.5 183.5h10.2M332.6 178.4v10.2M347.8 171.1h10.2M352.9 166.0v10.2M334.3 172.4h10.2M339.4 167.3v10.2M341.6 178.3h10.2M346.7 173.2v10.2M344.4 186.8h10.2M349.5 181.7v10.2M316.1 189.9h10.2M321.2 184.8v10.2M319.0 181.1h10.2M324.1 176.0v10.2M337.6 185.1h10.2M342.7 180.0v10.2M348.6 182.9h10.2M353.7 177.8v10.2M334.3 175.3h10.2M339.4 170.2v10.2M334.7 186.2h10.2M339.8 181.1v10.2M333.9 200.0h10.2M339.0 194.9v10.2M320.5 195.7h10.2M325.6 190.6v10.2M297.4 198.8h10.2M302.5 193.7v10.2M333.0 193.3h10.2M338.1 188.2v10.2M337.3 157.4h10.2M342.4 152.3v10.2M336.5 162.4h10.2M341.6 157.3v10.2M349.4 157.9h10.2M354.5 152.8v10.2M357.6 154.6h10.2M362.7 149.5v10.2M313.2 213.8h10.2M318.3 208.7v10.2M328.6 163.0h10.2M333.7 157.9v10.2M320.4 214.2h10.2M325.5 209.1v10.2M327.8 218.6h10.2M332.9 213.5v10.2M335.8 171.7h10.2M340.9 166.6v10.2M321.5 142.5h10.2M326.6 137.4v10.2M318.6 200.0h10.2M323.7 194.9v10.2M309.6 177.5h10.2M314.7 172.4v10.2M364.6 173.1h10.2M369.7 168.0v10.2M332.1 191.8h10.2M337.2 186.7v10.2M338.0 166.8h10.2M343.1 161.7v10.2M332.1 212.2h10.2M337.2 207.1v10.2M328.9 196.3h10.2M334.0 191.2v10.2M314.9 174.1h10.2M320.0 169.0v10.2M332.8 171.1h10.2M337.9 166.0v10.2M334.6 184.4h10.2M339.7 179.3v10.2M350.8 178.8h10.2M355.9 173.7v10.2M379.3 174.9h10.2M384.4 169.8v10.2M359.2 193.8h10.2M364.3 188.7v10.2M329.9 177.0h10.2M335.0 171.9v10.2M310.1 163.6h10.2M315.2 158.5v10.2M328.3 192.2h10.2M333.4 187.1v10.2M314.2 203.3h10.2M319.3 198.2v10.2M320.5 228.9h10.2M325.6 223.8v10.2M299.4 219.3h10.2M304.5 214.2v10.2M307.8 235.3h10.2M312.9 230.2v10.2M307.4 222.4h10.2M312.5 217.3v10.2M302.4 214.2h10.2M307.5 209.1v10.2M330.2 210.6h10.2M335.3 205.5v10.2M318.1 220.3h10.2M323.2 215.2v10.2M304.5 213.7h10.2M309.6 208.6v10.2M290.3 233.8h10.2M295.4 228.7v10.2M318.3 213.5h10.2M323.4 208.4v10.2M318.1 225.8h10.2M323.2 220.7v10.2M318.1 222.4h10.2M323.2 217.3v10.2M301.2 204.3h10.2M306.3 199.2v10.2M307.6 208.8h10.2M312.7 203.7v10.2M285.5 220.4h10.2M290.6 215.3v10.2M333.5 237.6h10.2M338.6 232.5v10.2M355.1 218.0h10.2M360.2 212.9v10.2M326.9 216.9h10.2M332.0 211.8v10.2M324.8 210.6h10.2M329.9 205.5v10.2M331.5 229.4h10.2M336.6 224.3v10.2M344.8 226.2h10.2M349.9 221.1v10.2M328.2 213.6h10.2M333.3 208.5v10.2M278.3 212.5h10.2M283.4 207.4v10.2M319.0 221.6h10.2M324.1 216.5v10.2M315.5 228.2h10.2M320.6 223.1v10.2M320.4 216.3h10.2M325.5 211.2v10.2M299.8 224.3h10.2M304.9 219.2v10.2M314.5 216.8h10.2M319.6 211.7v10.2M303.7 209.9h10.2M308.8 204.8v10.2M314.3 215.3h10.2M319.4 210.2v10.2M312.2 214.0h10.2M317.3 208.9v10.2M312.2 218.8h10.2M317.3 213.7v10.2M302.4 211.9h10.2M307.5 206.8v10.2M323.1 216.4h10.2M328.2 211.3v10.2M297.9 225.9h10.2M303.0 220.8v10.2M317.9 230.7h10.2M323.0 225.6v10.2M337.2 234.1h10.2M342.3 229.0v10.2M308.8 230.2h10.2M313.9 225.1v10.2M298.6 227.6h10.2M303.7 222.5v10.2M319.5 220.5h10.2M324.6 215.4v10.2M300.3 230.8h10.2M305.4 225.7v10.2M333.1 211.7h10.2M338.2 206.6v10.2M325.5 218.8h10.2M330.6 213.7v10.2M330.5 201.9h10.2M335.6 196.8v10.2M315.8 227.5h10.2M320.9 222.4v10.2M327.5 216.1h10.2M332.6 211.0v10.2M338.9 227.2h10.2M344.0 222.1v10.2M337.3 206.6h10.2M342.4 201.5v10.2M350.5 203.2h10.2M355.6 198.1v10.2M300.5 85.0h10.2M305.6 79.9v10.2M296.5 99.2h10.2M301.6 94.1v10.2M371.7 105.3h10.2M376.8 100.2v10.2M338.6 117.8h10.2M343.7 112.7v10.2M356.6 121.7h10.2M361.7 116.6v10.2M218.3 137.8h10.2M223.4 132.7v10.2M280.5 144.3h10.2M285.6 139.2v10.2M292.9 148.8h10.2M298.0 143.7v10.2M311.5 134.3h10.2M316.6 129.2v10.2M309.5 142.8h10.2M314.6 137.7v10.2M324.6 139.3h10.2M329.7 134.2v10.2M335.6 132.8h10.2M340.7 127.7v10.2M340.6 132.8h10.2M345.7 127.7v10.2M388.2 140.3h10.2M393.3 135.2v10.2M389.7 165.3h10.2M394.8 160.2v10.2M248.9 163.8h10.2M254.0 158.7v10.2M228.9 178.4h10.2M234.0 173.3v10.2M200.3 185.4h10.2M205.4 180.3v10.2M199.3 199.4h10.2M204.4 194.3v10.2M240.4 191.9h10.2M245.5 186.8v10.2M210.3 204.4h10.2M215.4 199.3v10.2M394.2 207.9h10.2M399.3 202.8v10.2M387.2 218.9h10.2M392.3 213.8v10.2M370.5 308.3h10.2M375.6 303.2v10.2M279.9 360.5h10.2M285.0 355.4v10.2M246.6 355.9h10.2M251.7 350.8v10.2M151.1 349.4h10.2M156.2 344.3v10.2M149.5 340.4h10.2M154.6 335.3v10.2M169.8 263.7h10.2M174.9 258.6v10.2M171.1 273.4h10.2M176.2 268.3v10.2M178.6 279.9h10.2M183.7 274.8v10.2M155.0 331.7h10.2M160.1 326.6v10.2M158.2 333.3h10.2M163.3 328.2v10.2M160.8 321.0h10.2M165.9 315.9v10.2M186.7 364.0h10.2M191.8 358.9v10.2M178.6 352.7h10.2M183.7 347.6v10.2M180.2 358.5h10.2M185.3 353.4v10.2M220.7 350.1h10.2M225.8 345.0v10.2M231.3 342.3h10.2M236.4 337.2v10.2M237.8 333.3h10.2M242.9 328.2v10.2M257.2 332.6h10.2M262.3 327.5v10.2M264.3 324.2h10.2M269.4 319.1v10.2M267.6 314.5h10.2M272.7 309.4v10.2M248.2 321.0h10.2M253.3 315.9v10.2M280.5 313.9h10.2M285.6 308.8v10.2M381.9 239.2h10.2M387.0 234.1v10.2M373.2 235.0h10.2M378.3 229.9v10.2M358.6 230.5h10.2M363.7 225.4v10.2M359.3 237.6h10.2M364.4 232.5v10.2M360.2 247.3h10.2M365.3 242.2v10.2M347.3 235.0h10.2M352.4 229.9v10.2M339.2 243.4h10.2M344.3 238.3v10.2M334.4 247.3h10.2M339.5 242.2v10.2M324.7 246.7h10.2M329.8 241.6v10.2M310.1 248.9h10.2M315.2 243.8v10.2M326.3 260.9h10.2M331.4 255.8v10.2M306.9 264.1h10.2M312.0 259.0v10.2M355.4 255.4h10.2M360.5 250.3v10.2M358.6 263.5h10.2M363.7 258.4v10.2M375.4 268.3h10.2M380.5 263.2v10.2M343.4 272.5h10.2M348.5 267.4v10.2M316.6 273.2h10.2M321.7 268.1v10.2M319.8 277.1h10.2M324.9 272.0v10.2M333.4 277.1h10.2M338.5 272.0v10.2M304.3 279.0h10.2M309.4 273.9v10.2M306.9 286.1h10.2M312.0 281.0v10.2M330.2 293.5h10.2M335.3 288.4v10.2M323.7 299.7h10.2M328.8 294.6v10.2M306.9 295.8h10.2M312.0 290.7v10.2M295.6 295.8h10.2M300.7 290.7v10.2M289.1 302.9h10.2M294.2 297.8v10.2M300.5 310.3h10.2M305.6 305.2v10.2M308.5 312.6h10.2M313.6 307.5v10.2M316.0 320.0h10.2M321.1 314.9v10.2M279.4 312.0h10.2M284.5 306.9v10.2M358.0 123.3h10.2M363.1 118.2v10.2M376.4 127.5h10.2M381.5 122.4v10.2M389.3 127.5h10.2M394.4 122.4v10.2M332.8 130.8h10.2M337.9 125.7v10.2M341.8 130.8h10.2M346.9 125.7v10.2M358.6 129.8h10.2M363.7 124.7v10.2M369.0 131.4h10.2M374.1 126.3v10.2M386.1 133.0h10.2M391.2 127.9v10.2M361.2 137.9h10.2M366.3 132.8v10.2M387.1 139.5h10.2M392.2 134.4v10.2M368.3 144.3h10.2M373.4 139.2v10.2M349.6 147.6h10.2M354.7 142.5v10.2M357.0 149.2h10.2M362.1 144.1v10.2M339.9 150.8h10.2M345.0 145.7v10.2M331.2 154.7h10.2M336.3 149.6v10.2M337.6 155.6h10.2M342.7 150.5v10.2M347.3 157.3h10.2M352.4 152.2v10.2M371.6 155.6h10.2M376.7 150.5v10.2M361.2 167.0h10.2M366.3 161.9v10.2M368.3 163.7h10.2M373.4 158.6v10.2M388.4 166.0h10.2M393.5 160.9v10.2M365.1 172.8h10.2M370.2 167.7v10.2M305.3 162.1h10.2M310.4 157.0v10.2M298.8 165.3h10.2M303.9 160.2v10.2M311.8 167.0h10.2M316.9 161.9v10.2M363.5 183.1h10.2M368.6 178.0v10.2M352.2 181.5h10.2M357.3 176.4v10.2M285.9 172.8h10.2M291.0 167.7v10.2M361.2 208.3h10.2M366.3 203.2v10.2M363.5 210.6h10.2M368.6 205.5v10.2M350.5 202.5h10.2M355.6 197.4v10.2M344.1 205.7h10.2M349.2 200.6v10.2" fill="none" stroke="#000" stroke-width="1" stroke-opacity="0.86"/>
<g filter="url(#soft)">
<rect x="59.20" y="6.90" width="443.20" height="4.40" fill="#000"/>
<rect x="59.20" y="441.65" width="443.20" height="4.75" fill="#000"/>
<rect x="59.20" y="6.90" width="4.75" height="439.50" fill="#000"/>
<rect x="497.65" y="6.90" width="4.75" height="439.50" fill="#000"/>
<rect x="59.20" y="223.45" width="444.40" height="3.25" fill="#000"/>
<rect x="280.25" y="6.90" width="3.10" height="440.70" fill="#000"/>
<rect x="107.50" y="6.90" width="4.60" height="19.00" fill="#000"/>
<rect x="107.50" y="430.20" width="4.60" height="16.20" fill="#000"/>
<rect x="193.50" y="6.90" width="4.60" height="16.70" fill="#000"/>
<rect x="193.50" y="428.80" width="4.60" height="17.60" fill="#000"/>
<rect x="279.55" y="6.90" width="4.60" height="16.70" fill="#000"/>
<rect x="279.55" y="428.80" width="4.60" height="17.60" fill="#000"/>
<rect x="364.60" y="6.90" width="4.60" height="16.70" fill="#000"/>
<rect x="364.60" y="428.80" width="4.60" height="17.60" fill="#000"/>
<rect x="449.70" y="6.90" width="4.60" height="16.50" fill="#000"/>
<rect x="449.70" y="428.40" width="4.60" height="18.00" fill="#000"/>
<rect x="488.20" y="6.90" width="4.60" height="16.50" fill="#000"/>
<rect x="488.20" y="428.20" width="4.60" height="18.20" fill="#000"/>
<rect x="59.20" y="56.20" width="17.00" height="4.60" fill="#000"/>
<rect x="59.20" y="139.20" width="17.00" height="4.60" fill="#000"/>
<rect x="59.20" y="312.10" width="17.00" height="4.60" fill="#000"/>
<rect x="59.20" y="394.90" width="17.00" height="4.60" fill="#000"/>
<rect x="483.50" y="53.90" width="18.90" height="4.60" fill="#000"/>
<rect x="483.50" y="139.00" width="18.90" height="4.60" fill="#000"/>
<rect x="483.50" y="309.20" width="18.90" height="4.60" fill="#000"/>
<rect x="483.50" y="396.30" width="18.90" height="4.60" fill="#000"/>
<rect x="59.20" y="222.75" width="35.20" height="3.95" fill="#000"/>
<text x="50.30" y="64.25" font-size="15.2" font-weight="normal" letter-spacing="0.45" text-anchor="end" fill="#000" stroke="#000" stroke-width="0.95" stroke-linejoin="round" >40</text>
<text x="50.30" y="147.25" font-size="15.2" font-weight="normal" letter-spacing="0.45" text-anchor="end" fill="#000" stroke="#000" stroke-width="0.95" stroke-linejoin="round" >20</text>
<text x="51.20" y="230.55" font-size="15.2" font-weight="normal" letter-spacing="0.45" text-anchor="end" fill="#000" stroke="#000" stroke-width="0.95" stroke-linejoin="round" >0</text>
<text x="50.30" y="320.15" font-size="15.2" font-weight="normal" letter-spacing="0.45" text-anchor="end" fill="#000" stroke="#000" stroke-width="0.95" stroke-linejoin="round" >- 20</text>
<text x="50.30" y="402.95" font-size="15.2" font-weight="normal" letter-spacing="0.45" text-anchor="end" fill="#000" stroke="#000" stroke-width="0.95" stroke-linejoin="round" >- 40</text>
<text x="112.10" y="462.80" font-size="14.4" font-weight="normal" letter-spacing="0.45" text-anchor="middle" fill="#000" stroke="#000" stroke-width="0.95" stroke-linejoin="round" >- 40</text>
<text x="193.60" y="462.80" font-size="14.4" font-weight="normal" letter-spacing="0.45" text-anchor="middle" fill="#000" stroke="#000" stroke-width="0.95" stroke-linejoin="round" >- 20</text>
<text x="281.40" y="462.80" font-size="14.4" font-weight="normal" letter-spacing="0.45" text-anchor="middle" fill="#000" stroke="#000" stroke-width="0.95" stroke-linejoin="round" >0</text>
<text x="365.80" y="462.80" font-size="14.4" font-weight="normal" letter-spacing="0.45" text-anchor="middle" fill="#000" stroke="#000" stroke-width="0.95" stroke-linejoin="round" >20</text>
<text x="452.20" y="462.80" font-size="14.4" font-weight="normal" letter-spacing="0.45" text-anchor="middle" fill="#000" stroke="#000" stroke-width="0.95" stroke-linejoin="round" >40</text>
<text x="77.90" y="31.00" font-size="18.3" font-weight="normal" letter-spacing="1.2" text-anchor="start" fill="#000" stroke="#000" stroke-width="1.15" stroke-linejoin="round" >(a)</text>
<text x="286.60" y="478.10" font-size="17.6" font-weight="normal" letter-spacing="0.9" text-anchor="middle" fill="#000" stroke="#000" stroke-width="0.95" stroke-linejoin="round" >Radar radial velocity (cm/s)</text>
<text transform="translate(19.90 220.70) rotate(-90)" font-size="17.6" font-weight="normal" letter-spacing="0.88" text-anchor="middle" fill="#000" stroke="#000" stroke-width="0.95" stroke-linejoin="round">Drifter <tspan fill="#b4b4b4" stroke="#b4b4b4">r</tspan>adial velocity (cm/s)</text>
</g>
</g>
<g id="panelB">
<g filter="url(#soft)">
<rect x="573.30" y="6.90" width="443.20" height="4.40" fill="#000"/>
<rect x="573.30" y="442.25" width="443.20" height="4.75" fill="#000"/>
<rect x="573.30" y="6.90" width="4.75" height="440.10" fill="#000"/>
<rect x="1011.75" y="6.90" width="4.75" height="440.10" fill="#000"/>
<rect x="573.30" y="6.90" width="5.15" height="440.10" fill="#000"/>
<rect x="585.40" y="6.90" width="4.60" height="18.10" fill="#000"/>
<rect x="585.40" y="429.00" width="4.60" height="18.00" fill="#000"/>
<rect x="643.20" y="6.90" width="4.60" height="18.10" fill="#000"/>
<rect x="643.20" y="429.00" width="4.60" height="18.00" fill="#000"/>
<rect x="701.80" y="6.90" width="4.60" height="18.10" fill="#000"/>
<rect x="701.80" y="429.00" width="4.60" height="18.00" fill="#000"/>
<rect x="759.00" y="6.90" width="4.60" height="18.10" fill="#000"/>
<rect x="759.00" y="429.00" width="4.60" height="18.00" fill="#000"/>
<rect x="815.70" y="6.90" width="4.60" height="18.10" fill="#000"/>
<rect x="815.70" y="429.00" width="4.60" height="18.00" fill="#000"/>
<rect x="873.00" y="6.90" width="4.60" height="18.10" fill="#000"/>
<rect x="873.00" y="429.00" width="4.60" height="18.00" fill="#000"/>
<rect x="931.10" y="6.90" width="4.60" height="18.10" fill="#000"/>
<rect x="931.10" y="429.00" width="4.60" height="18.00" fill="#000"/>
<rect x="987.70" y="6.90" width="4.60" height="18.10" fill="#000"/>
<rect x="987.70" y="429.00" width="4.60" height="18.00" fill="#000"/>
<rect x="573.30" y="56.90" width="17.40" height="4.60" fill="#000"/>
<rect x="573.30" y="139.50" width="17.40" height="4.60" fill="#000"/>
<rect x="573.30" y="312.70" width="17.40" height="4.60" fill="#000"/>
<rect x="573.30" y="395.10" width="17.40" height="4.60" fill="#000"/>
<rect x="997.80" y="55.20" width="18.70" height="4.00" fill="#000"/>
<rect x="997.80" y="139.00" width="18.70" height="4.00" fill="#000"/>
<rect x="997.80" y="309.00" width="18.70" height="4.00" fill="#000"/>
<rect x="997.80" y="396.30" width="18.70" height="4.00" fill="#000"/>
<text x="567.80" y="57.15" font-size="15.2" font-weight="normal" letter-spacing="0.45" text-anchor="end" fill="#000" stroke="#000" stroke-width="0.95" stroke-linejoin="round" >40</text>
<text x="567.80" y="139.35" font-size="15.2" font-weight="normal" letter-spacing="0.45" text-anchor="end" fill="#000" stroke="#000" stroke-width="0.95" stroke-linejoin="round" >20</text>
<text x="567.80" y="228.75" font-size="15.2" font-weight="normal" letter-spacing="0.45" text-anchor="end" fill="#000" stroke="#000" stroke-width="0.95" stroke-linejoin="round" >0.0</text>
<text x="567.80" y="314.05" font-size="15.2" font-weight="normal" letter-spacing="0.45" text-anchor="end" fill="#000" stroke="#000" stroke-width="0.95" stroke-linejoin="round" >20</text>
<text x="567.80" y="397.55" font-size="15.2" font-weight="normal" letter-spacing="0.45" text-anchor="end" fill="#000" stroke="#000" stroke-width="0.95" stroke-linejoin="round" >- 40</text>
<rect x="540.8" y="309.3" width="4.0" height="1.4" fill="#b0b0b0"/>
<text x="582.50" y="461.00" font-size="14.6" font-weight="normal" letter-spacing="0.45" text-anchor="middle" fill="#000" stroke="#000" stroke-width="0.95" stroke-linejoin="round" >20</text>
<text x="646.00" y="463.50" font-size="14.6" font-weight="normal" letter-spacing="0.45" text-anchor="middle" fill="#000" stroke="#000" stroke-width="0.95" stroke-linejoin="round" >30</text>
<text x="704.70" y="463.50" font-size="14.6" font-weight="normal" letter-spacing="0.45" text-anchor="middle" fill="#000" stroke="#000" stroke-width="0.95" stroke-linejoin="round" >40</text>
<text x="758.40" y="463.50" font-size="14.6" font-weight="normal" letter-spacing="0.45" text-anchor="middle" fill="#000" stroke="#000" stroke-width="0.95" stroke-linejoin="round" >50</text>
<text x="818.50" y="460.80" font-size="14.6" font-weight="normal" letter-spacing="0.45" text-anchor="middle" fill="#000" stroke="#000" stroke-width="0.95" stroke-linejoin="round" >60</text>
<text x="876.00" y="460.80" font-size="14.6" font-weight="normal" letter-spacing="0.45" text-anchor="middle" fill="#000" stroke="#000" stroke-width="0.95" stroke-linejoin="round" >70</text>
<text x="929.80" y="463.50" font-size="14.6" font-weight="normal" letter-spacing="0.45" text-anchor="middle" fill="#000" stroke="#000" stroke-width="0.95" stroke-linejoin="round" >80</text>
<text x="995.00" y="461.40" font-size="14.6" font-weight="normal" letter-spacing="0.45" text-anchor="middle" fill="#000" stroke="#000" stroke-width="0.95" stroke-linejoin="round" >90</text>
<text x="592.00" y="31.10" font-size="18.3" font-weight="normal" letter-spacing="1.5" text-anchor="start" fill="#000" stroke="#000" stroke-width="1.15" stroke-linejoin="round" >(b)</text>
<text x="788.50" y="483.00" font-size="17.6" font-weight="normal" letter-spacing="0.78" text-anchor="middle" fill="#000" stroke="#000" stroke-width="0.8" stroke-linejoin="round" >Time from 4/1/08 00:00 (hours)</text>
<text transform="translate(535.60 224.40) rotate(-90)" font-size="17.2" font-weight="normal" letter-spacing="0.98" text-anchor="middle" fill="#000" stroke="#000" stroke-width="0.8" stroke-linejoin="round">Radial velocity (cm/s)</text>
</g>
<g filter="url(#soft)">
<path d="M580.0 238.6L585.1 241.4L591.2 214.7L597.3 195.5L602.3 210.7L608.4 232.9L615.4 230.5L621.1 235.9L627.2 201.6L632.6 205.0L638.3 202.0L643.8 198.5L649.8 181.3L655.9 189.4L662.0 200.6L667.0 208.6L673.1 213.1L679.1 203.6L684.0 210.5L689.3 216.7L695.1 223.8L700.8 230.9L706.6 226.8L712.3 224.4L718.1 220.4L723.8 217.3L729.6 208.6L735.3 219.8L741.1 219.8L746.8 218.8L752.6 208.6L758.3 212.7L764.1 189.4L769.8 212.7L775.6 220.8L781.3 218.4L787.0 221.4L789.0 221.8L799.2 218.4L805.2 213.1L811.3 218.8L822.4 220.4L829.5 217.7L834.5 218.8L841.6 223.2L847.7 218.4L858.2 223.8L869.9 207.6L876.0 210.7L881.1 209.0L890.2 224.4L900.0 224.4L905.6 218.4L911.1 224.4L916.7 217.8L923.3 216.7L928.9 203.3L934.4 203.3L939.3 207.3L945.6 203.3L951.1 224.4L956.7 227.8L962.2 216.2L968.9 224.4L974.4 220.7L980.0 218.9L985.6 222.9L991.8 230.4L997.1 214.4L1003.3 204.4L1008.9 247.8" fill="none" stroke="#1fc41f" stroke-width="1.5" stroke-linejoin="round" stroke-linecap="round"/>
</g>
<path d="M581.2 192.1h7.8M585.1 188.2v7.8M576.2 214.3h7.8M580.1 210.4v7.8M587.3 215.7h7.8M591.2 211.8v7.8M598.4 208.6h7.8M602.3 204.7v7.8M604.5 215.7h7.8M608.4 211.8v7.8M617.2 215.7h7.8M621.1 211.8v7.8M628.7 215.7h7.8M632.6 211.8v7.8M623.3 178.3h7.8M627.2 174.4v7.8M639.9 186.8h7.8M643.8 182.9v7.8M645.9 188.4h7.8M649.8 184.5v7.8M658.1 203.0h7.8M662.0 199.1v7.8M663.1 204.6h7.8M667.0 200.7v7.8M669.2 205.6h7.8M673.1 201.7v7.8M675.2 207.6h7.8M679.1 203.7v7.8M679.3 214.7h7.8M683.2 210.8v7.8M686.2 183.4h7.8M690.1 179.5v7.8M691.9 187.4h7.8M695.8 183.5v7.8M697.3 192.5h7.8M701.2 188.6v7.8M703.4 203.6h7.8M707.3 199.7v7.8M714.5 192.5h7.8M718.4 188.6v7.8M719.6 193.5h7.8M723.5 189.6v7.8M725.6 201.6h7.8M729.5 197.7v7.8M731.7 202.2h7.8M735.6 198.3v7.8M743.8 202.6h7.8M747.7 198.7v7.8M749.9 193.5h7.8M753.8 189.6v7.8M756.0 193.5h7.8M759.9 189.6v7.8M761.0 188.4h7.8M764.9 184.5v7.8M767.1 198.5h7.8M771.0 194.6v7.8M773.2 194.9h7.8M777.1 191.0v7.8M779.2 200.6h7.8M783.1 196.7v7.8M784.7 204.6h7.8M788.6 200.7v7.8M790.2 199.5h7.8M794.1 195.6v7.8M795.3 195.5h7.8M799.2 191.6v7.8M801.3 203.6h7.8M805.2 199.7v7.8M807.4 209.7h7.8M811.3 205.8v7.8M813.5 213.7h7.8M817.4 209.8v7.8M819.5 201.6h7.8M823.4 197.7v7.8M825.6 192.5h7.8M829.5 188.6v7.8M831.7 200.6h7.8M835.6 196.7v7.8M837.3 207.6h7.8M841.2 203.7v7.8M842.8 204.6h7.8M846.7 200.7v7.8M848.8 208.6h7.8M852.7 204.7v7.8M854.3 198.5h7.8M858.2 194.6v7.8M860.4 193.5h7.8M864.3 189.6v7.8M866.0 196.5h7.8M869.9 192.6v7.8M872.1 191.5h7.8M876.0 187.6v7.8M878.2 197.5h7.8M882.1 193.6v7.8M884.2 191.5h7.8M888.1 187.6v7.8M889.8 202.4h7.8M893.7 198.5v7.8M895.0 202.9h7.8M898.9 199.0v7.8M901.7 193.3h7.8M905.6 189.4v7.8M907.2 210.0h7.8M911.1 206.1v7.8M912.8 197.8h7.8M916.7 193.9v7.8M918.3 209.6h7.8M922.2 205.7v7.8M924.3 193.3h7.8M928.2 189.4v7.8M930.1 214.9h7.8M934.0 211.0v7.8M935.4 208.9h7.8M939.3 205.0v7.8M941.7 202.2h7.8M945.6 198.3v7.8M952.8 201.6h7.8M956.7 197.7v7.8M958.3 202.2h7.8M962.2 198.3v7.8M963.9 196.2h7.8M967.8 192.3v7.8M970.5 200.0h7.8M974.4 196.1v7.8M976.1 210.0h7.8M980.0 206.1v7.8M982.1 200.7h7.8M986.0 196.8v7.8M987.9 206.7h7.8M991.8 202.8v7.8M993.2 208.9h7.8M997.1 205.0v7.8M999.4 170.0h7.8M1003.3 166.1v7.8" fill="none" stroke="#ff3030" stroke-width="1.05" stroke-opacity="0.82"/>
<path d="M576.2 205.6h7.8M580.1 201.7v7.8M581.2 199.5h7.8M585.1 195.6v7.8M588.3 201.6h7.8M592.2 197.7v7.8M592.3 203.0h7.8M596.2 199.1v7.8M599.4 209.0h7.8M603.3 205.1v7.8M604.5 213.7h7.8M608.4 209.8v7.8M611.5 207.6h7.8M615.4 203.7v7.8M623.3 194.9h7.8M627.2 191.0v7.8M628.6 172.7h7.8M632.5 168.8v7.8M639.9 194.9h7.8M643.8 191.0v7.8M644.9 190.4h7.8M648.8 186.5v7.8M651.0 188.4h7.8M654.9 184.5v7.8M657.1 203.0h7.8M661.0 199.1v7.8M663.1 212.7h7.8M667.0 208.8v7.8M669.2 204.6h7.8M673.1 200.7v7.8M675.2 201.0h7.8M679.1 197.1v7.8M680.1 204.6h7.8M684.0 200.7v7.8M686.2 199.5h7.8M690.1 195.6v7.8M697.3 204.6h7.8M701.2 200.7v7.8M703.4 190.4h7.8M707.3 186.5v7.8M708.5 194.5h7.8M712.4 190.6v7.8M714.5 198.5h7.8M718.4 194.6v7.8M719.6 194.5h7.8M723.5 190.6v7.8M725.6 195.5h7.8M729.5 191.6v7.8M732.7 198.5h7.8M736.6 194.6v7.8M738.8 197.5h7.8M742.7 193.6v7.8M744.9 195.5h7.8M748.8 191.6v7.8M750.9 192.5h7.8M754.8 188.6v7.8M756.0 187.4h7.8M759.9 183.5v7.8M761.0 189.4h7.8M764.9 185.5v7.8M767.1 193.5h7.8M771.0 189.6v7.8M773.2 195.5h7.8M777.1 191.6v7.8M779.2 198.5h7.8M783.1 194.6v7.8M784.3 201.6h7.8M788.2 197.7v7.8M790.2 200.2h7.8M794.1 196.3v7.8M796.3 196.1h7.8M800.2 192.2v7.8M807.4 208.6h7.8M811.3 204.7v7.8M813.5 200.6h7.8M817.4 196.7v7.8M819.5 201.6h7.8M823.4 197.7v7.8M825.6 201.6h7.8M829.5 197.7v7.8M831.7 203.0h7.8M835.6 199.1v7.8M837.3 203.6h7.8M841.2 199.7v7.8M842.8 196.1h7.8M846.7 192.2v7.8M848.8 196.1h7.8M852.7 192.2v7.8M854.3 186.4h7.8M858.2 182.5v7.8M860.4 183.4h7.8M864.3 179.5v7.8M866.0 188.4h7.8M869.9 184.5v7.8M872.1 182.4h7.8M876.0 178.5v7.8M878.2 189.4h7.8M882.1 185.5v7.8M884.2 193.5h7.8M888.1 189.6v7.8M889.8 192.3h7.8M893.7 188.4v7.8M895.0 193.3h7.8M898.9 189.4v7.8M901.7 199.3h7.8M905.6 195.4v7.8M907.2 196.7h7.8M911.1 192.8v7.8M912.8 201.6h7.8M916.7 197.7v7.8M919.0 201.6h7.8M922.9 197.7v7.8M930.1 203.3h7.8M934.0 199.4v7.8M935.4 203.8h7.8M939.3 199.9v7.8M947.2 200.0h7.8M951.1 196.1v7.8M952.8 193.3h7.8M956.7 189.4v7.8M958.3 200.7h7.8M962.2 196.8v7.8M963.9 203.3h7.8M967.8 199.4v7.8M970.5 201.1h7.8M974.4 197.2v7.8M976.1 202.2h7.8M980.0 198.3v7.8M982.1 198.9h7.8M986.0 195.0v7.8M987.9 186.7h7.8M991.8 182.8v7.8M993.2 201.1h7.8M997.1 197.2v7.8M999.4 188.9h7.8M1003.3 185.0v7.8M1005.0 210.0h7.8M1008.9 206.1v7.8" fill="none" stroke="#000" stroke-width="1.05" stroke-opacity="0.85"/>
<g filter="url(#soft)">
<path d="M580.0 196.9L585.8 178.3L591.5 192.5L597.3 169.6L603.0 207.2L608.8 203.0L614.6 198.5L620.9 209.7L626.7 158.6L632.7 158.2L638.3 162.5L643.9 167.0L650.3 157.4L656.1 157.2L661.0 168.2L666.9 180.3L672.5 182.4L678.3 186.4L683.6 198.5L689.3 190.0L695.1 205.6L700.8 186.4L706.6 166.6L712.3 182.4L718.1 193.5L723.8 192.1L729.6 184.0L735.3 198.5L741.1 189.4L746.8 190.4L752.6 192.5L758.3 190.4L764.1 177.3L769.8 195.5L775.6 198.1L781.3 200.2L787.0 203.0L793.1 191.5L799.2 188.4L805.2 182.4L811.3 195.5L816.3 197.5L822.4 193.5L829.5 199.5L834.5 198.1L841.6 191.5L845.7 196.1L851.7 195.5L858.2 203.6L863.9 188.4L869.9 174.7L876.0 186.0L882.1 188.0L888.1 193.5L893.5 197.5L898.9 200.0L905.6 196.7L911.1 189.6L916.7 196.7L922.2 197.8L928.2 191.1L934.4 195.6L939.3 193.3L945.6 188.2L951.1 197.8L956.7 200.0L962.2 202.2L967.8 200.0L974.4 202.2L980.0 192.2L986.0 176.7L991.8 190.0L997.1 196.2L1003.3 183.3L1008.9 178.9" fill="none" stroke="#1a5cff" stroke-width="1.5" stroke-linejoin="round" stroke-linecap="round"/>
<polygon points="573.3,223.45 1017.4,224.3 1017.4,227.95 573.3,227.1" fill="#000"/>
<rect x="573.30" y="222.70" width="17.40" height="4.30" fill="#000"/>
</g>
</g>
</svg>
</body>
</html>
